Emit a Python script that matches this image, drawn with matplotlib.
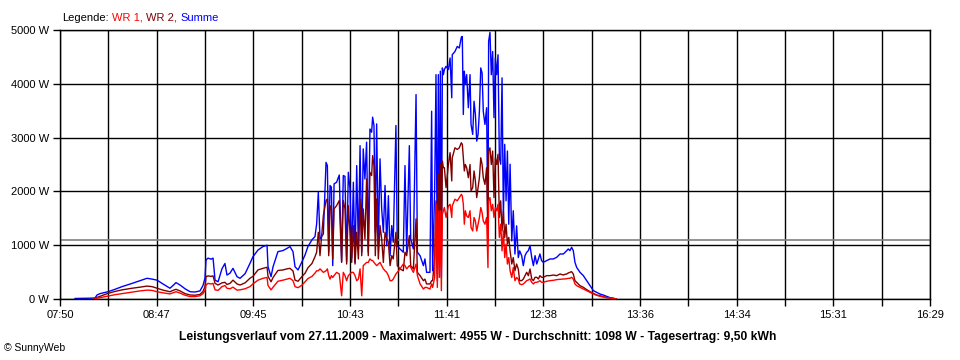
import numpy as np
import matplotlib
matplotlib.use('Agg')
import matplotlib.pyplot as plt

plt.rcParams['font.family'] = ['Liberation Sans', 'DejaVu Sans']

nan = np.nan

# time of day in minutes
t = [479.0, 487.9, 490.9, 492.1, 493.9, 498.6, 502.8, 507.0, 513.0, 517.7,
     521.9, 524.9, 527.9, 531.4, 535.6, 537.4, 539.2, 541.6, 544.6, 547.6,
     550.5, 553.5,
     555.3, 556.5, 557.1, 558.3, 560.1, 561.3, 562.5, 564.3, 566.6, 568.4,
     569.6, 571.4, 573.2, 575.6, 577.4, 580.4, 583.3, 585.1, 588.1, 591.1,
     593.5, 594.1, 595.9, 597.1, 600.0, 603.0, 605.4, 607.2, 609.0, 610.2,
     612.0, 614.4, 616.2, 617.9, 620.3, 622.1,
     623.1, 624.1, 625.1, 627.1, 628.7, 629.5, 630.3, 631.1, 631.9, 632.7,
     633.5, 635.0, 636.6, 638.0, 639.0, 640.0, 641.0, 642.0, 643.0, 644.0,
     645.0, 646.0, 647.0, 648.0, 649.0, 650.0, 650.9, 651.9, 652.9, 653.9,
     654.9, 655.9, 656.5, 657.3, 658.1, 658.9, 659.9, 660.9, 661.9, 662.9,
     663.9, 664.9, 665.9, 666.9, 667.9, 668.8, 670.4, 671.2, 672.8, 674.8,
     675.8, 676.8, 678.4, 679.2, 680.8, 682.4, 683.2, 684.8, 686.8, 687.7,
     688.7,
     690.7, 691.7, 692.3, 693.5, 694.3, 695.1, 695.7, 696.3, 696.9, 697.5,
     698.1, 698.7, 699.3, 700.3, 701.7, 702.7, 703.7, 704.0, 705.6, 707.0,
     708.2, 709.4, 710.0, 710.6, 711.2, 711.8, 712.6, 713.6, 714.6, 715.2,
     716.2, 717.0, 717.8, 718.6, 719.4, 720.2, 721.0, 721.8, 722.5, 723.5,
     724.5, 725.3, 725.7, 726.5, 727.3, 728.1, 728.9, 729.7, 730.5, 731.3,
     732.1, 732.9, 733.7, 734.5, 735.3, 736.1, 736.9, 737.7, 738.5, 739.5,
     740.4, 741.4, 742.4, 743.4, 744.2,
     745.4, 746.4, 747.4, 748.4, 749.4, 750.4, 751.4, 752.4, 753.4, 754.4,
     755.4, 756.3, 757.3, 758.3, 760.3, 762.3, 764.3, 766.3, 768.3, 770.3,
     771.3, 772.3, 773.2, 774.2, 775.2, 776.2, 777.2, 778.2, 780.2, 782.2,
     784.2, 786.2, 788.2, 790.2, 792.1, 794.1, 796.1, 798.1, 800.1, 801.7]

summe = [10, 15, 20, 75, 100, 135, 180, 230, 290, 340,
         385, 370, 350, 280, 200, 250, 305, 260, 190, 135,
         130, 150,
         250, 390, 725, 760, 740, 760, 350, 320, 560, 660,
         445, 480, 570, 415, 385, 470, 660, 785, 910, 975,
         1000, 600, 415, 600, 880, 900, 940, 975, 880, 600,
         540, 695, 820, 975, 1100, 1160,
         1395, 1985, 1115, 1210, 2540, 2480, 870, 2110, 2080, 620,
         2140, 2170, 2305, 700, 2295, 2280, 700, 2355, 2045, 760,
         2170, 680, 2480, 930, 2850, 870, 2790, 2230, 2915, 870,
         3160, 3100, 3380, 3225, 1240, 3255, 990, 2605, 1675, 1240,
         2110, 990, 1920, 805, 1365, 1055, 3225, 990, 930, 870,
         2480, 870, 2850, 1115, 930, 3800, 870, 805, 620, 745,
         495,
         495, 3490, 525, 2010, 4170, 465, 4170, 770, 4235, 400,
         4295, 4170, 4265, 4325, 4265, 4480, 3740, 4540, 4600, 4695,
         4665, 4865, 4880, 3430, 4235, 3985, 4170, 3555, 4170, 3245,
         3060, 3675, 3430, 2935, 3060, 3490, 4295, 4200, 3490, 3245,
         3555, 1080, 4790, 4955, 4170, 4600, 3370, 4480, 4170, 4540,
         2625, 2505, 4110, 1515, 2875, 1825, 2750, 1390, 2505, 1080,
         1640, 835, 1360, 770, 895,
         806, 620, 806, 868, 899, 992, 775, 620, 806, 651,
         744, 837, 713, 682, 713, 744, 744, 775, 837, 837,
         868, 899, 930, 899, 961, 899, 682, 589, 496, 434,
         341, 248, 155, 124, 93, 74, 50, 25, 12, 0]

wr2 = [nan, nan, 10, 30, 50, 105, 140, 170, 200, 220,
       240, 230, 200, 165, 135, 160, 180, 150, 100, 75,
       70, 85,
       140, 230, 415, 430, 420, 430, 290, 260, 300, 310,
       270, 290, 350, 280, 260, 300, 385, 420, 540, 570,
       590, 420, 320, 400, 530, 540, 560, 570, 520, 350,
       330, 420, 480, 580, 660, 785,
       870, 1240, 805, 1550, 1830, 1860, 805, 1735, 1675, 745,
       1675, 1735, 1830, 680, 1830, 1675, 650, 1735, 1240, 680,
       1365, 650, 1240, 745, 1860, 805, 1675, 1115, 2230, 805,
       2355, 2295, 2665, 2480, 805, 1860, 745, 1365, 1115, 680,
       1240, 1115, 1055, 620, 805, 745, 1240, 620, 560, 525,
       870, 805, 1180, 620, 560, 1490, 495, 435, 340, 370,
       280,
       280, 340, 340, 770, 1825, 340, 2320, 770, 2500, 835,
       2565, 2440, 2440, 2070, 2500, 2720, 2195, 2625, 2810, 2780,
       2810, 2905, 2875, 2625, 2380, 2500, 2440, 2255, 2500, 2010,
       2070, 2380, 2195, 1885, 2070, 2255, 2625, 2500, 2255, 2130,
       2440, 1080, 2750, 2810, 2500, 2750, 1885, 2625, 2500, 2690,
       1515, 1825, 1265, 1640, 1145, 1390, 1020, 1145, 895, 650,
       770, 525, 650, 555, 340,
       341, 372, 434, 496, 434, 558, 372, 341, 403, 403,
       372, 434, 403, 403, 434, 434, 446, 434, 465, 446,
       459, 465, 484, 496, 508, 465, 341, 310, 248, 217,
       174, 136, 105, 74, 62, 43, 25, 19, 12, 0]

wr1 = [nan, nan, 10, 15, 25, 55, 80, 100, 130, 150,
       165, 160, 135, 115, 95, 115, 135, 110, 70, 45,
       45, 60,
       100, 160, 260, 290, 280, 290, 170, 160, 230, 250,
       200, 190, 220, 165, 170, 190, 230, 280, 350, 385,
       400, 250, 170, 220, 330, 350, 370, 385, 340, 230,
       210, 260, 320, 380, 420, 480,
       525, 525, 560, 495, 525, 560, 435, 370, 435, 400,
       435, 495, 465, 60, 495, 435, 340, 435, 465, 495,
       495, 435, 340, 370, 560, 60, 620, 650, 680, 680,
       745, 715, 715, 680, 650, 620, 650, 680, 620, 560,
       525, 495, 435, 340, 340, 370, 465, 495, 560, 650,
       620, 560, 620, 590, 495, 650, 435, 280, 185, 215,
       215,
       185, 280, 215, 400, 1760, 215, 1640, 400, 1640, 155,
       1575, 1640, 1700, 1515, 1730, 1760, 1515, 1730, 1855, 1825,
       1885, 1945, 1915, 1760, 1390, 1640, 1545, 1515, 1640, 1330,
       1265, 1515, 1450, 1265, 1390, 1515, 1700, 1605, 1450, 1390,
       1515, 585, 1825, 1885, 1640, 1760, 1515, 1700, 1640, 1760,
       1145, 1390, 895, 1265, 770, 1020, 650, 770, 525, 400,
       585, 340, 400, 370, 280,
       267, 279, 310, 341, 353, 372, 310, 279, 310, 310,
       322, 341, 310, 310, 329, 341, 347, 360, 366, 372,
       372, 378, 384, 384, 403, 372, 279, 248, 217, 186,
       155, 124, 93, 68, 50, 37, 25, 19, 12, 0]

durchschnitt = 1098
t_start = 7 * 60 + 50
t_end = 16 * 60 + 29
x_labels = ['07:50', '08:47', '09:45', '10:43', '11:41',
            '12:38', '13:36', '14:34', '15:31', '16:29']
y_ticks = [0, 1000, 2000, 3000, 4000, 5000]
titel = ('Leistungsverlauf vom 27.11.2009 - Maximalwert: 4955 W - '
         'Durchschnitt: 1098 W - Tagesertrag: 9,50 kWh')

fig = plt.figure(figsize=(9.6, 3.6), dpi=100)
ax = fig.add_axes([60 / 960, 61 / 360, 870 / 960, 269 / 360])

major = np.linspace(t_start, t_end, len(x_labels))
minor = np.linspace(t_start, t_end, 2 * len(x_labels) - 1)

ax.set_xlim(t_start, t_end)
ax.set_ylim(0, 5000)
ax.set_xticks(major)
ax.set_xticklabels(x_labels)
ax.set_xticks(minor, minor=True)
ax.set_yticks(y_ticks)
ax.set_yticklabels(['{0} W'.format(v) for v in y_ticks])
ax.tick_params(axis='both', which='both', length=5, width=1, color='black',
               labelsize=8, pad=3)
ax.grid(True, which='both', color='black', lw=1)
ax.set_axisbelow(True)
for s in ax.spines.values():
    s.set_color('black')
    s.set_linewidth(1)

ax.axhline(durchschnitt, color='#808080', lw=1.2, zorder=1.5)
ax.plot(t, summe, color='#0000ff', lw=1.0, zorder=2)
ax.plot(t, wr2, color='#800000', lw=1.0, zorder=3)
ax.plot(t, wr1, color='#ff0000', lw=1.0, zorder=4)

# legend as coloured text
txt = fig.text(62 / 960, 1 - 21 / 360, 'Legende:', fontsize=8, color='black')
prev = txt
for s, c in [('WR 1,', '#ff0000'), ('WR 2,', '#800000'), ('Summe', '#0000ff')]:
    prev = ax.annotate(s, xy=(1, 0), xycoords=prev, xytext=(2.5, 0),
                       textcoords='offset points', fontsize=8, color=c,
                       va='bottom', annotation_clip=False)

fig.text(478 / 960, 1 - 337 / 360, titel, ha='center', va='center',
         fontsize=8.7, fontweight='bold')
fig.text(4 / 960, 1 - 348 / 360, '© SunnyWeb', fontsize=7.5, va='center')

fig.savefig('out.png', dpi=100)
